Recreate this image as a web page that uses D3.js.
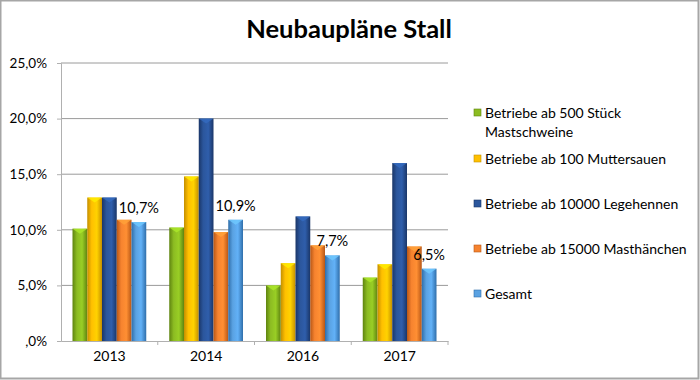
<!DOCTYPE html>
<html>
<head>
<meta charset="utf-8">
<script src="https://cdn.jsdelivr.net/npm/d3@7"></script>
<style>
  body { margin: 0; background: #fff; }
  svg text { font-family: Lato, "Open Sans", sans-serif; fill: #000; }
</style>
</head>
<body>
<div id="chart"></div>
<script>
var years = ["2013", "2014", "2016", "2017"];
var seriesNames = ["Betriebe ab 500 Stück Mastschweine", "Betriebe ab 100 Muttersauen",
                   "Betriebe ab 10000 Legehennen", "Betriebe ab 15000 Masthänchen", "Gesamt"];
var mastschweine = [10.1, 10.2, 5.0, 5.7];
var muttersauen = [12.9, 14.8, 7.0, 6.9];
var legehennen = [12.9, 20.0, 11.2, 16.0];
var masthaenchen = [10.9, 9.8, 8.6, 8.5];
var gesamt = [10.7, 10.9, 7.7, 6.5];
var gesamtLabels = ["10,7%", "10,9%", "7,7%", "6,5%"];
var yTicks = [0, 5, 10, 15, 20, 25];
var yTickLabels = [",0%", "5,0%", "10,0%", "15,0%", "20,0%", "25,0%"];

var allSeries = [mastschweine, muttersauen, legehennen, masthaenchen, gesamt];
var colors = ["#8cbc22", "#ffc000", "#2b569c", "#f6832f", "#5aa2e2"];
var darks = ["#5f8410", "#c48f00", "#1a3668", "#b85716", "#2f6eaa"];

var W = 700, H = 380;
var plot = {left: 61, right: 448, top: 63, bottom: 341};

var svg = d3.select("#chart").append("svg")
    .attr("width", W).attr("height", H);

// gradients for a rounded bar look
var defs = svg.append("defs");
colors.forEach(function(c, i) {
  var g = defs.append("linearGradient").attr("id", "grad" + i)
      .attr("x1", "0%").attr("x2", "100%").attr("y1", "0%").attr("y2", "0%");
  g.append("stop").attr("offset", "0%").attr("stop-color", darks[i]);
  g.append("stop").attr("offset", "30%").attr("stop-color", c);
  g.append("stop").attr("offset", "65%").attr("stop-color", d3.color(c).brighter(0.25));
  g.append("stop").attr("offset", "100%").attr("stop-color", darks[i]);
});

// outer frame
svg.append("rect").attr("x", 0.5).attr("y", 0.5).attr("width", W - 2).attr("height", H - 2)
    .attr("fill", "none").attr("stroke", "#a6a6a6").attr("stroke-width", 2);

svg.append("text").attr("x", 349).attr("y", 38)
    .attr("text-anchor", "middle").style("font-size", "25.5px").style("font-weight", "bold")
    .text("Neubaupläne Stall");

var y = d3.scaleLinear().domain([0, 25]).range([plot.bottom, plot.top]);
var x0 = d3.scaleBand().domain(years).range([plot.left, plot.right]);
var x1 = d3.scaleBand().domain(d3.range(5)).range([11.5, x0.bandwidth() - 11.5]);

// gridlines
svg.append("g").selectAll("line").data(yTicks.slice(1)).enter().append("line")
    .attr("x1", plot.left).attr("x2", plot.right)
    .attr("y1", function(d) { return y(d); }).attr("y2", function(d) { return y(d); })
    .attr("stroke", "#9a9a9a").attr("stroke-width", 1);

// y axis
var yAxis = svg.append("g").attr("transform", "translate(" + plot.left + ",0)")
    .call(d3.axisLeft(y).tickValues(yTicks).tickSize(4).tickPadding(10)
      .tickFormat(function(d, i) { return yTickLabels[i]; }));
yAxis.select(".domain").attr("stroke", "#b0b0b0");
yAxis.selectAll(".tick line").attr("stroke", "#b0b0b0");
yAxis.selectAll("text").style("font-size", "13.5px").attr("fill", "#000");

// x axis
var xAxis = svg.append("g").attr("transform", "translate(0," + plot.bottom + ")")
    .call(d3.axisBottom(x0).tickSize(0).tickPadding(10));
xAxis.select(".domain").attr("stroke", "#b0b0b0");
xAxis.selectAll("text").style("font-size", "14px").attr("fill", "#000");
xAxis.selectAll(".sep").data(years).enter().append("line")
    .attr("x1", function(d) { return x0(d) + x0.bandwidth(); })
    .attr("x2", function(d) { return x0(d) + x0.bandwidth(); })
    .attr("y1", 0).attr("y2", 4).attr("stroke", "#b0b0b0");

// bars
var groups = svg.append("g").selectAll("g").data(years).enter().append("g")
    .attr("transform", function(d) { return "translate(" + x0(d) + ",0)"; });

groups.selectAll("rect").data(function(d, yi) {
    return allSeries.map(function(s, si) { return {si: si, v: s[yi]}; });
  }).enter().append("rect")
    .attr("x", function(d) { return x1(d.si); })
    .attr("width", x1.bandwidth())
    .attr("y", function(d) { return y(d.v); })
    .attr("height", function(d) { return plot.bottom - y(d.v); })
    .attr("fill", function(d) { return "url(#grad" + d.si + ")"; });

// small bevel on the top of each bar
groups.selectAll("path").data(function(d, yi) {
    return allSeries.map(function(s, si) { return {si: si, v: s[yi]}; });
  }).enter().append("path")
    .attr("d", function(d) {
      var l = x1(d.si), w = x1.bandwidth(), t = y(d.v);
      return "M" + l + "," + t + "L" + (l + w) + "," + t + "L" + (l + w / 2) + "," + (t + 5) + "Z";
    })
    .attr("fill", function(d) { return d3.color(colors[d.si]).brighter(0.6); })
    .attr("opacity", 0.8);

// labels for Gesamt
groups.append("text")
    .attr("x", x1(4) + x1.bandwidth() / 2)
    .attr("y", function(d, i) { return y(gesamt[i]) - 9; })
    .attr("text-anchor", "middle").style("font-size", "14.5px")
    .text(function(d, i) { return gesamtLabels[i]; });

// legend
var legendRows = [
  {si: 0, lines: ["Betriebe ab 500 Stück", "Mastschweine"], y: 113},
  {si: 1, lines: ["Betriebe ab 100 Muttersauen"], y: 159},
  {si: 2, lines: ["Betriebe ab 10000 Legehennen"], y: 204},
  {si: 3, lines: ["Betriebe ab 15000 Masthänchen"], y: 249},
  {si: 4, lines: ["Gesamt"], y: 294}
];
var legend = svg.append("g").selectAll("g").data(legendRows).enter().append("g");
legend.append("rect")
    .attr("x", 474).attr("y", function(d) { return d.y - 4; })
    .attr("width", 7).attr("height", 7)
    .attr("fill", function(d) { return colors[d.si]; })
    .attr("stroke", function(d) { return darks[d.si]; }).attr("stroke-width", 0.6);
legend.each(function(d) {
  var t = d3.select(this).append("text").attr("x", 485).attr("y", d.y + 5)
      .style("font-size", "14px");
  d.lines.forEach(function(line, i) {
    t.append("tspan").attr("x", 485).attr("dy", i === 0 ? 0 : 19).text(line);
  });
});
</script>
</body>
</html>
